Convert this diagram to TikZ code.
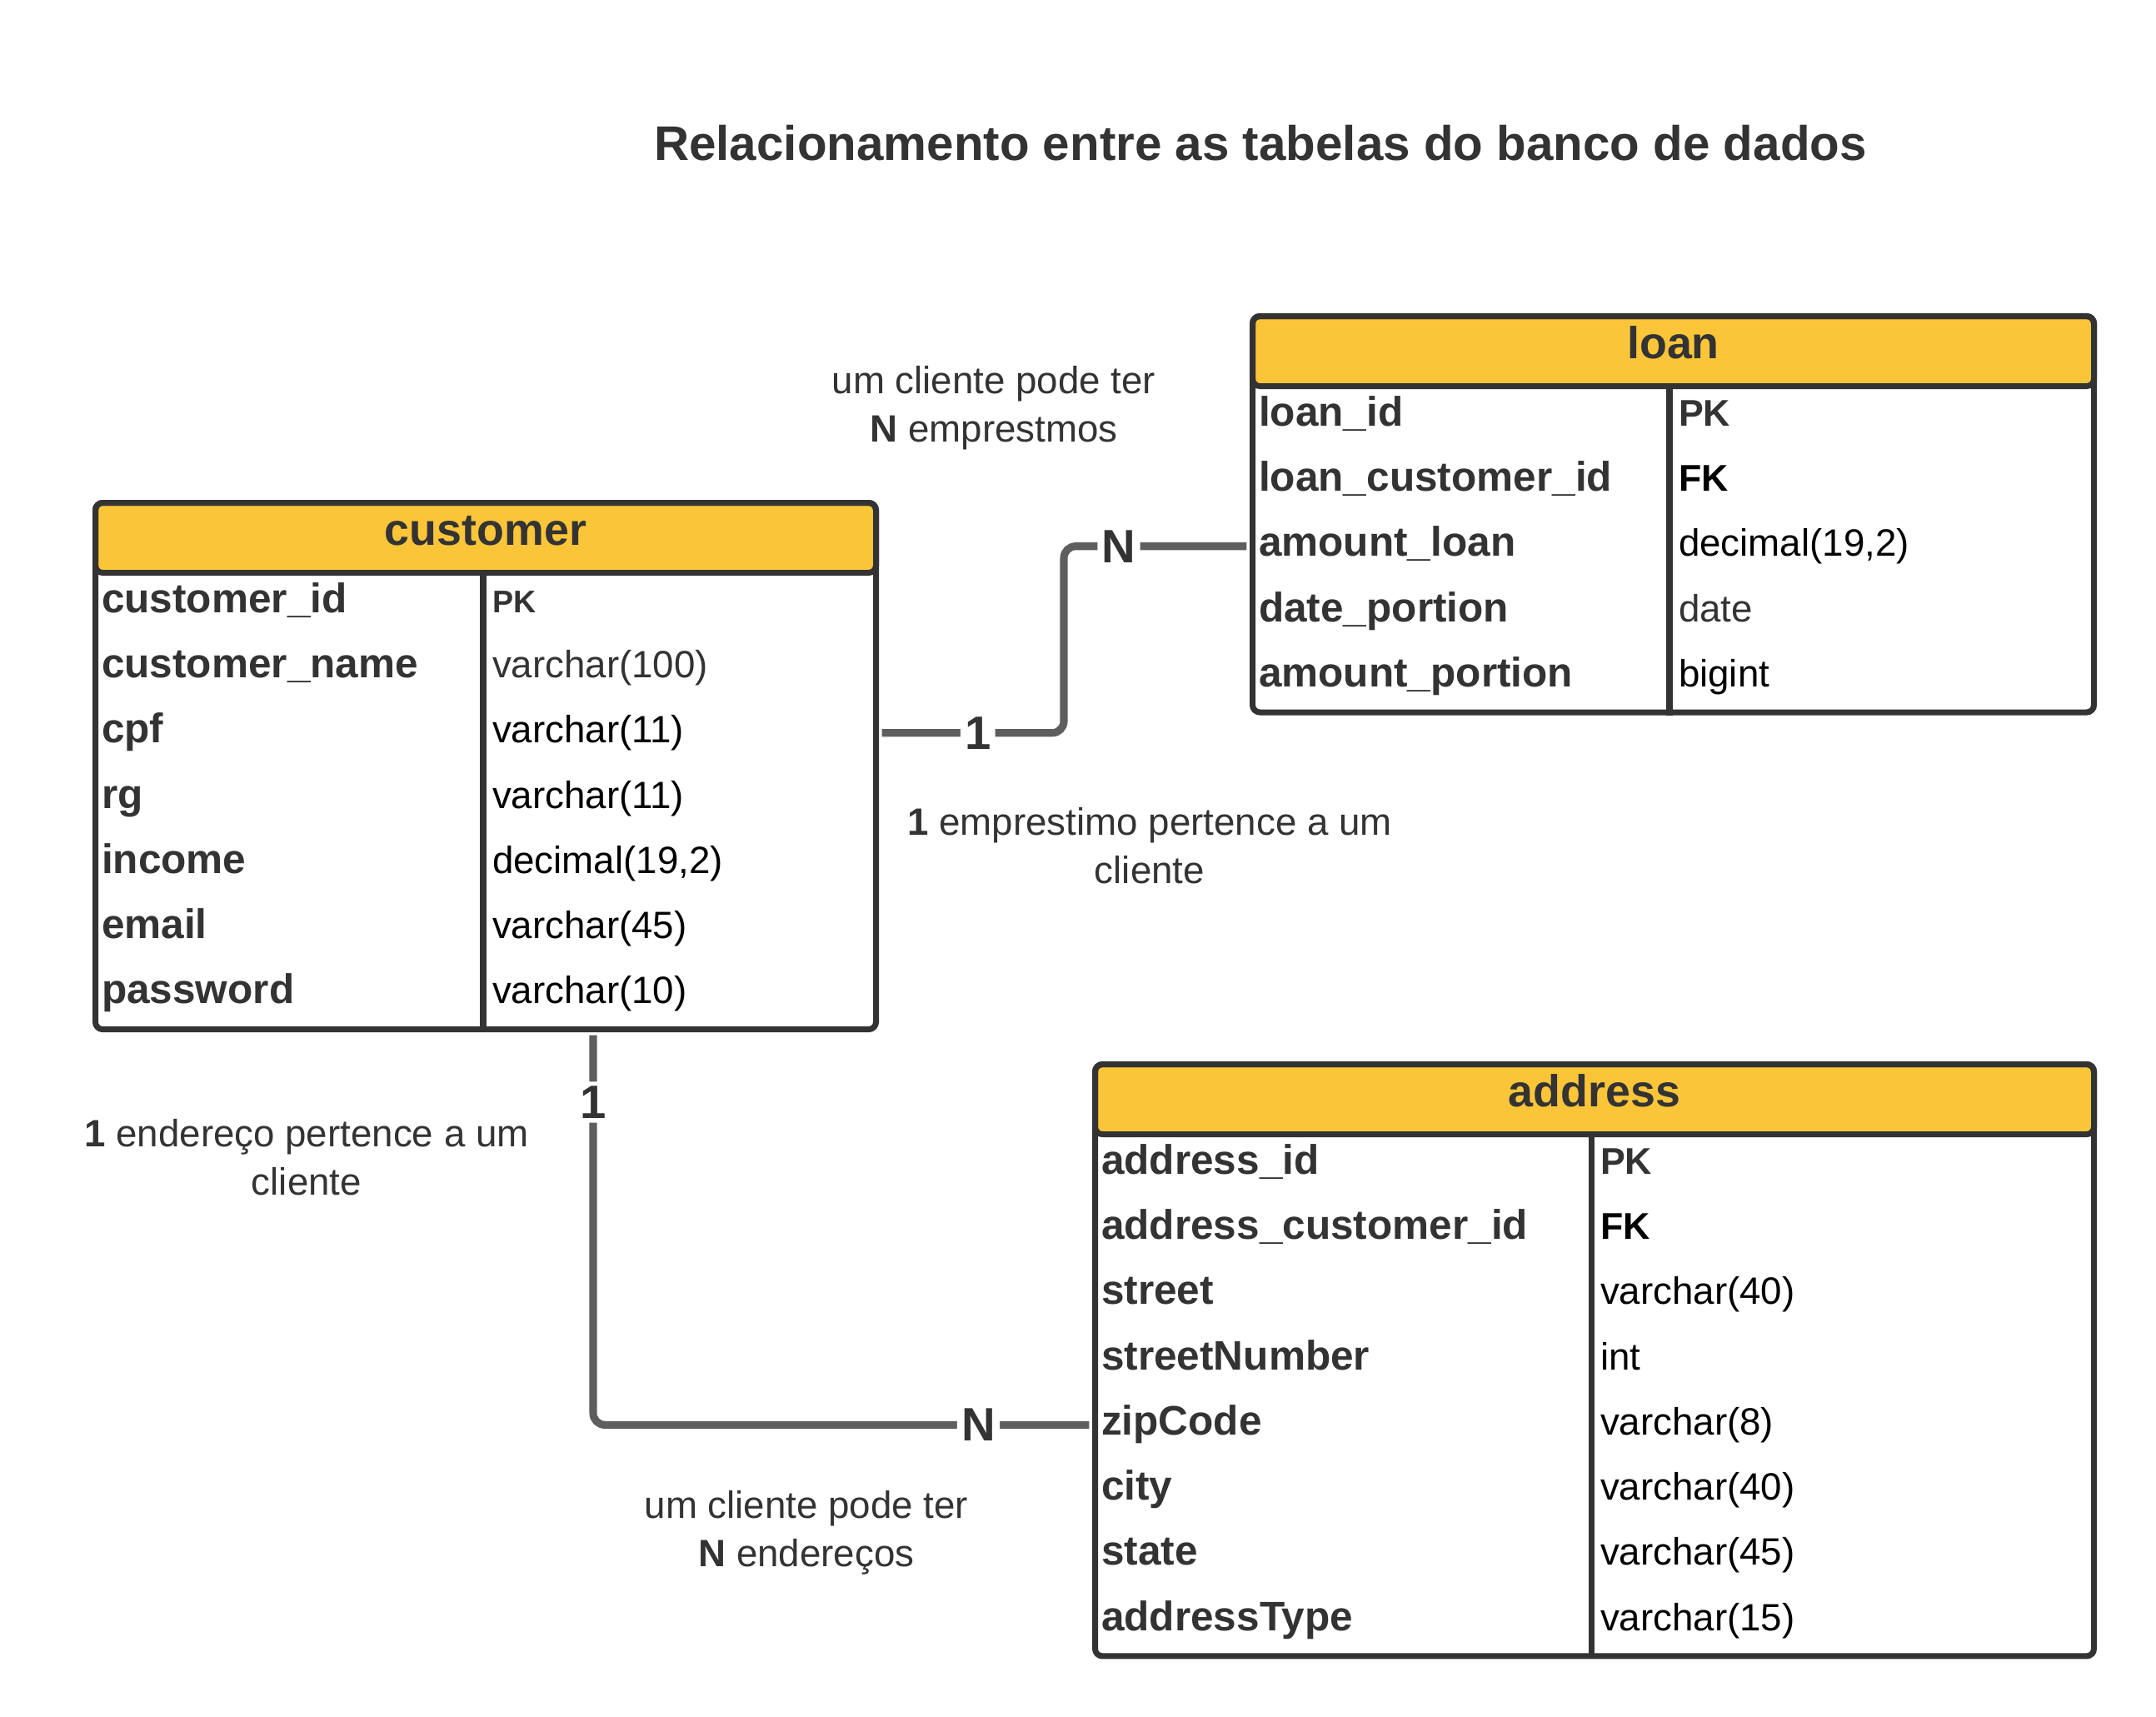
\documentclass[tikz,border=0pt]{standalone}
\usepackage{fontspec}
\setmainfont{Liberation Sans}

\definecolor{headyellow}{HTML}{FBC53A}
\definecolor{framegray}{HTML}{333333}
\definecolor{linegray}{HTML}{5E5E5E}
\definecolor{txtgray}{HTML}{333333}

\tikzstyle{tablehead} = [rectangle, draw=framegray, line width=2pt, fill=headyellow, text=txtgray, font={\bfseries\fontsize{15.3}{18}\selectfont}, text height=10pt, text depth=5pt, rounded corners=2.5pt, inner sep=0pt, anchor=north west]
\tikzstyle{tableframe} = [rectangle, draw=framegray, line width=2pt, rounded corners=2.5pt, inner sep=0pt, anchor=north west]
\tikzstyle{tablerule} = [draw=framegray, line width=2pt]
\tikzstyle{fieldname} = [text width=5.6cm, align=left, inner sep=0pt, text height=10pt, text depth=3.2pt, text=txtgray, font={\bfseries\fontsize{14.1}{17}\selectfont}, node distance=0.783cm]
\tikzstyle{fieldtype} = [fieldname, text=black, font={\fontsize{13}{16}\selectfont}]
\tikzstyle{keytype} = [fieldname, font={\bfseries\fontsize{12.7}{15}\selectfont}]
\tikzstyle{relline} = [draw=linegray, line width=2.6pt, rounded corners=4pt, shorten <=1pt, shorten >=1pt]
\tikzstyle{cardinality} = [fill=white, inner sep=1.5pt, text=txtgray, font={\bfseries\fontsize{16}{19}\selectfont}]
\tikzstyle{remark} = [align=center, text=txtgray, font={\fontsize{13}{16.5}\selectfont}]

\begin{document}
\begin{tikzpicture}
            \useasboundingbox (0,0) rectangle (25.88,-20.61);
            \node[text=txtgray, font={\bfseries\fontsize{16.6}{20}\selectfont}, anchor=base] (title) at (15.13,-1.92) {Relacionamento entre as tabelas do banco de dados};

            % customer
            \node[tablehead, minimum width=9.37cm, minimum height=0.84cm] (customerhead) at (1.11,-6.00) {customer};
            \node[tableframe, minimum width=9.37cm, minimum height=6.321cm] (customer) at (1.11,-6.00) {};
            \draw[tablerule] ([xshift=4.69cm]customerhead.south west) -- ([xshift=4.69cm]customer.south west);
            \node[fieldname] (custid) at (4.02,-7.2315) {customer\_id};
            \node[fieldname, below of=custid] (custname) {customer\_name};
            \node[fieldname, below of=custname] (custcpf) {cpf};
            \node[fieldname, below of=custcpf] (custrg) {rg};
            \node[fieldname, below of=custrg] (custincome) {income};
            \node[fieldname, below of=custincome] (custemail) {email};
            \node[fieldname, below of=custemail] (custpassword) {password};
            \node[keytype, font={\bfseries\fontsize{10.7}{13}\selectfont}, right of=custid, node distance=4.69cm] (custidtype) {PK};
            \node[fieldtype, text=txtgray, right of=custname, node distance=4.69cm] (custnametype) {varchar(100)};
            \node[fieldtype, right of=custcpf, node distance=4.69cm] (custcpftype) {varchar(11)};
            \node[fieldtype, right of=custrg, node distance=4.69cm] (custrgtype) {varchar(11)};
            \node[fieldtype, right of=custincome, node distance=4.69cm] (custincometype) {decimal(19,2)};
            \node[fieldtype, right of=custemail, node distance=4.69cm] (custemailtype) {varchar(45)};
            \node[fieldtype, right of=custpassword, node distance=4.69cm] (custpasswordtype) {varchar(10)};

            % loan
            \node[tablehead, minimum width=10.10cm, minimum height=0.84cm] (loanhead) at (15.00,-3.76) {loan};
            \node[tableframe, minimum width=10.10cm, minimum height=4.755cm] (loan) at (15.00,-3.76) {};
            \draw[tablerule] ([xshift=5.04cm]loanhead.south west) -- ([xshift=5.04cm]loan.south west);
            \node[fieldname] (loanid) at (17.91,-4.9915) {loan\_id};
            \node[fieldname, below of=loanid] (loancustid) {loan\_customer\_id};
            \node[fieldname, below of=loancustid] (loanamount) {amount\_loan};
            \node[fieldname, below of=loanamount] (loandate) {date\_portion};
            \node[fieldname, below of=loandate] (loanportion) {amount\_portion};
            \node[keytype, right of=loanid, node distance=5.04cm] (loanidtype) {PK};
            \node[keytype, text=black, right of=loancustid, node distance=5.04cm] (loancustidtype) {FK};
            \node[fieldtype, right of=loanamount, node distance=5.04cm] (loanamounttype) {decimal(19,2)};
            \node[fieldtype, text=txtgray, right of=loandate, node distance=5.04cm] (loandatetype) {date};
            \node[fieldtype, right of=loanportion, node distance=5.04cm] (loanportiontype) {bigint};

            % address
            \node[tablehead, minimum width=11.99cm, minimum height=0.84cm] (addresshead) at (13.11,-12.74) {address};
            \node[tableframe, minimum width=11.99cm, minimum height=7.104cm] (address) at (13.11,-12.74) {};
            \draw[tablerule] ([xshift=5.99cm]addresshead.south west) -- ([xshift=5.99cm]address.south west);
            \node[fieldname] (addrid) at (16.02,-13.9715) {address\_id};
            \node[fieldname, below of=addrid] (addrcustid) {address\_customer\_id};
            \node[fieldname, below of=addrcustid] (addrstreet) {street};
            \node[fieldname, below of=addrstreet] (addrnumber) {streetNumber};
            \node[fieldname, below of=addrnumber] (addrzip) {zipCode};
            \node[fieldname, below of=addrzip] (addrcity) {city};
            \node[fieldname, below of=addrcity] (addrstate) {state};
            \node[fieldname, below of=addrstate] (addrtype) {addressType};
            \node[keytype, right of=addrid, node distance=5.99cm] (addridtype) {PK};
            \node[keytype, text=black, right of=addrcustid, node distance=5.99cm] (addrcustidtype) {FK};
            \node[fieldtype, right of=addrstreet, node distance=5.99cm] (addrstreettype) {varchar(40)};
            \node[fieldtype, right of=addrnumber, node distance=5.99cm] (addrnumbertype) {int};
            \node[fieldtype, right of=addrzip, node distance=5.99cm] (addrziptype) {varchar(8)};
            \node[fieldtype, right of=addrcity, node distance=5.99cm] (addrcitytype) {varchar(40)};
            \node[fieldtype, right of=addrstate, node distance=5.99cm] (addrstatetype) {varchar(45)};
            \node[fieldtype, right of=addrtype, node distance=5.99cm] (addrtypetype) {varchar(15)};

            % relacionamentos
            \draw[relline] (customer.east |- custcpf) -- node[cardinality, pos=0.535] {1} ++(2.22,0) |- node[cardinality, pos=0.648] {N} (loan.west |- loanamount);
            \draw[relline] ([xshift=6.01cm]customer.south west) |- node[cardinality, pos=0.089] {1} node[cardinality, pos=0.886] {N} (address.west |- addrzip);

            \node[remark] (loannote) at (11.93,-4.90) {um cliente pode ter\\\textbf{N} emprestmos};
            \node[remark] (loanback) at (13.80,-10.15) {\textbf{1} emprestimo pertence a um\\cliente};
            \node[remark] (addrback) at (3.68,-13.89) {\textbf{1} endereço pertence a um\\cliente};
            \node[remark] (addrnote) at (9.68,-18.40) {um cliente pode ter\\\textbf{N} endereços};
\end{tikzpicture}
\end{document}
